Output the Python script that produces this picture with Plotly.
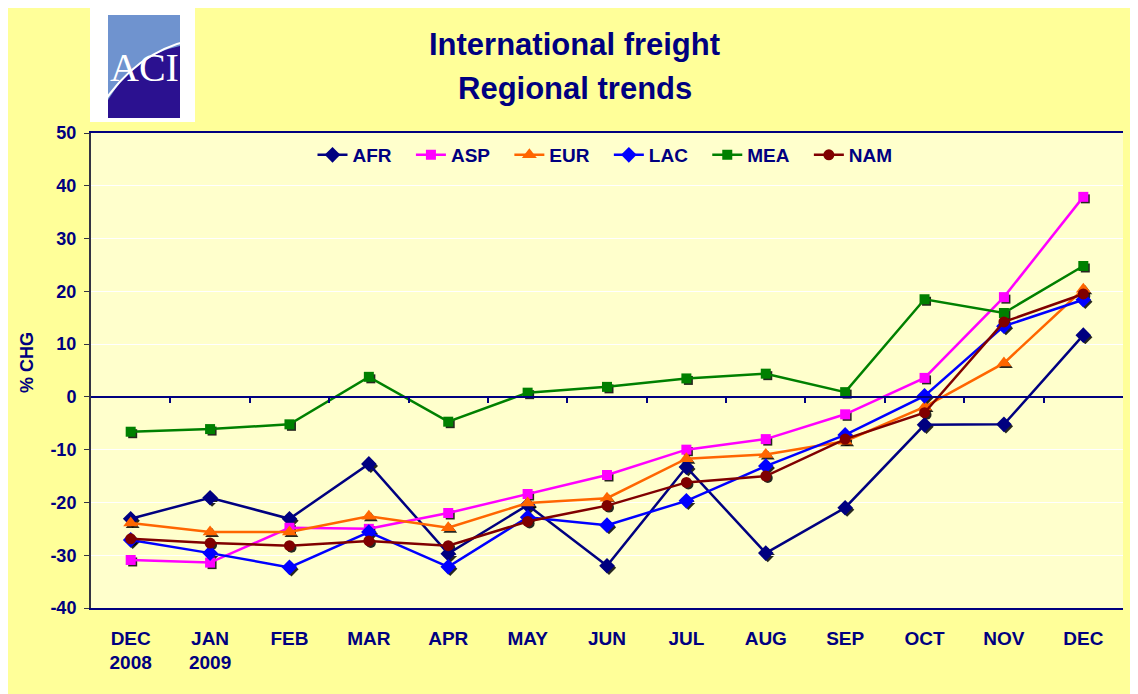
import plotly.graph_objects as go

months = ["DEC<br>2008", "JAN<br>2009", "FEB", "MAR", "APR", "MAY", "JUN",
          "JUL", "AUG", "SEP", "OCT", "NOV", "DEC"]
y_ticks = [-40, -30, -20, -10, 0, 10, 20, 30, 40, 50]
y_tick_labels = ["-40", "-30", "-20", "-10", "0", "10", "20", "30", "40", "50"]
AFR = [-23.1, -19.1, -23.1, -12.7, -29.7, -20.5, -32.0, -13.3, -29.6, -21.0, -5.3, -5.2, 11.7]
ASP = [-30.9, -31.4, -24.8, -25.0, -22.0, -18.4, -14.8, -10.0, -8.0, -3.3, 3.6, 18.9, 37.9]
EUR = [-23.9, -25.6, -25.6, -22.6, -24.8, -20.1, -19.2, -11.7, -10.9, -8.4, -1.9, 6.4, 20.4]
LAC = [-27.1, -29.6, -32.3, -25.6, -32.2, -22.8, -24.3, -19.7, -13.1, -7.2, 0.2, 13.4, 18.4]
MEA = [-6.6, -6.1, -5.2, 3.8, -4.7, 0.8, 1.9, 3.5, 4.4, 0.9, 18.5, 15.9, 24.8]
NAM = [-26.9, -27.7, -28.2, -27.3, -28.2, -23.6, -20.6, -16.2, -15.0, -8.0, -3.0, 14.2, 19.5]

series = [
    ("AFR", AFR, "#000080", "diamond", 12),
    ("ASP", ASP, "#FF00FF", "square", 10),
    ("EUR", EUR, "#FF6600", "triangle-up", 13),
    ("LAC", LAC, "#0000FF", "diamond", 12),
    ("MEA", MEA, "#008000", "square", 10),
    ("NAM", NAM, "#800000", "circle", 11),
]

OFF = 8                      # page body margin of the viewer
W, H = 1138, 694
ML, MT = 91 - OFF, 133 - OFF
AW, AH = 1034, 477           # plotting area incl. 2px shadow offset
MR, MB = W - ML - AW, H - MT - AH
PLOT_W, PLOT_H = 1032, 475

def px(xs):
    return (xs - OFF - ML) / AW

def py(ys):
    return (MT + AH - (ys - OFF)) / AH

xi = list(range(len(months)))
NAVY = "#000080"
FONT = "Liberation Sans, Arial, sans-serif"
ymin, ymax = -40, 50
PAD = "\u00a0\u00a0\u2009"

fig = go.Figure()

# marker shadows (first subplot, drawn underneath)
for name, vals, col, sym, sz in series:
    fig.add_trace(go.Scatter(x=xi, y=vals, mode="markers", xaxis="x", yaxis="y",
                             marker=dict(symbol=sym, size=sz - 1, color="rgba(0,0,0,0.85)"),
                             showlegend=False, hoverinfo="skip"))
for name, vals, col, sym, sz in series:
    fig.add_trace(go.Scatter(x=xi, y=vals, name=name + PAD, mode="lines+markers",
                             xaxis="x2", yaxis="y2",
                             line=dict(color=col, width=2.5),
                             marker=dict(symbol=sym, size=sz, color=col)))
# helper trace for the zero-line tick axis
fig.add_trace(go.Scatter(x=[xi[0]], y=[0], xaxis="x4", yaxis="y2", mode="markers",
                         marker=dict(opacity=0), showlegend=False, hoverinfo="skip"))

xd_main = [0, PLOT_W / AW]
yd_main = [(AH - PLOT_H) / AH, 1]
zero_pos = yd_main[0] + (0 - ymin) / (ymax - ymin) * (yd_main[1] - yd_main[0])

shapes = [
    dict(type="rect", xref="paper", yref="paper", x0=xd_main[0], x1=xd_main[1],
         y0=yd_main[0], y1=yd_main[1], fillcolor="#FFFFCC", line=dict(width=0), layer="below"),
    # logo
    dict(type="rect", xref="paper", yref="paper", x0=px(90), x1=px(195), y0=py(122), y1=py(8),
         fillcolor="white", line=dict(width=0)),
    dict(type="rect", xref="paper", yref="paper", x0=px(108), x1=px(180), y0=py(118), y1=py(15),
         fillcolor="#6F93CF", line=dict(width=0)),
    dict(type="path", xref="paper", yref="paper",
         path=(f"M {px(108)},{py(100)} Q {px(135)},{py(55)} {px(180)},{py(46)} "
               f"L {px(180)},{py(118)} L {px(108)},{py(118)} Z"),
         fillcolor="#2B1190", line=dict(width=0)),
    dict(type="path", xref="paper", yref="paper",
         path=f"M {px(100)},{py(108)} Q {px(135)},{py(52)} {px(192)},{py(40)}",
         line=dict(color="white", width=2)),
]

annotations = [
    dict(text="<b>International freight</b>", xref="paper", yref="paper", x=px(574), y=py(45),
         xanchor="center", yanchor="middle",
         showarrow=False, font=dict(family=FONT, size=31, color=NAVY)),
    dict(text="<b>Regional trends</b>", xref="paper", yref="paper", x=px(575), y=py(88),
         xanchor="center", yanchor="middle",
         showarrow=False, font=dict(family=FONT, size=31, color=NAVY)),
    dict(text="<b>% CHG</b>", xref="paper", yref="paper", x=px(27), y=py(363), textangle=-90,
         xanchor="center", yanchor="middle",
         showarrow=False, font=dict(family=FONT, size=18, color=NAVY)),
    dict(text="ACI", xref="paper", yref="paper", x=px(144), y=py(68),
         xanchor="center", yanchor="middle",
         showarrow=False, font=dict(family="Liberation Serif, serif", size=40, color="white")),
]

xrange = [-0.5, len(months) - 0.5]

fig.update_layout(
    width=W, height=H,
    margin=dict(l=ML, r=MR, t=MT, b=MB),
    paper_bgcolor="#FFFF99",
    plot_bgcolor="rgba(0,0,0,0)",
    font=dict(family=FONT, color=NAVY),
    showlegend=True,
    legend=dict(orientation="h", x=px(612), xanchor="center",
                y=py(155), yanchor="middle", bgcolor="rgba(0,0,0,0)",
                font=dict(family=FONT, size=19, color=NAVY, weight="bold"),
                itemwidth=30, tracegroupgap=0),
    # shadow subplot
    xaxis=dict(domain=[(AW - PLOT_W) / AW, 1], range=xrange, visible=False, anchor="y"),
    yaxis=dict(domain=[0, PLOT_H / AH], range=[ymin, ymax], visible=False, anchor="x"),
    # main subplot
    xaxis2=dict(domain=xd_main, range=xrange, tickvals=xi, ticktext=months,
                showgrid=False, zeroline=False, showline=True, linecolor=NAVY, linewidth=1.5,
                mirror=True, ticks="", ticklabelstandoff=12,
                tickfont=dict(family=FONT, size=19, color=NAVY, weight="bold"), anchor="y2"),
    yaxis2=dict(domain=yd_main, range=[ymin, ymax], tickvals=y_ticks, ticktext=y_tick_labels,
                showgrid=True, gridcolor="white",
                gridwidth=1, zeroline=True, zerolinecolor=NAVY, zerolinewidth=1.5,
                showline=True, linecolor="#333344", linewidth=2, mirror=False,
                ticks="outside", ticklen=5, tickcolor="#333344", ticklabelstandoff=4,
                tickfont=dict(family=FONT, size=18, color=NAVY, weight="bold"), anchor="x2"),
    xaxis4=dict(overlaying="x2", anchor="free", position=zero_pos, range=xrange,
                tickvals=[i + 0.5 for i in range(len(months) - 1)], ticks="outside", ticklen=5,
                tickcolor=NAVY, tickwidth=1.5, showticklabels=False, showgrid=False,
                zeroline=False, showline=True, linecolor=NAVY, linewidth=1.5),
    shapes=shapes,
    annotations=annotations,
)

fig.write_html("out.html")
